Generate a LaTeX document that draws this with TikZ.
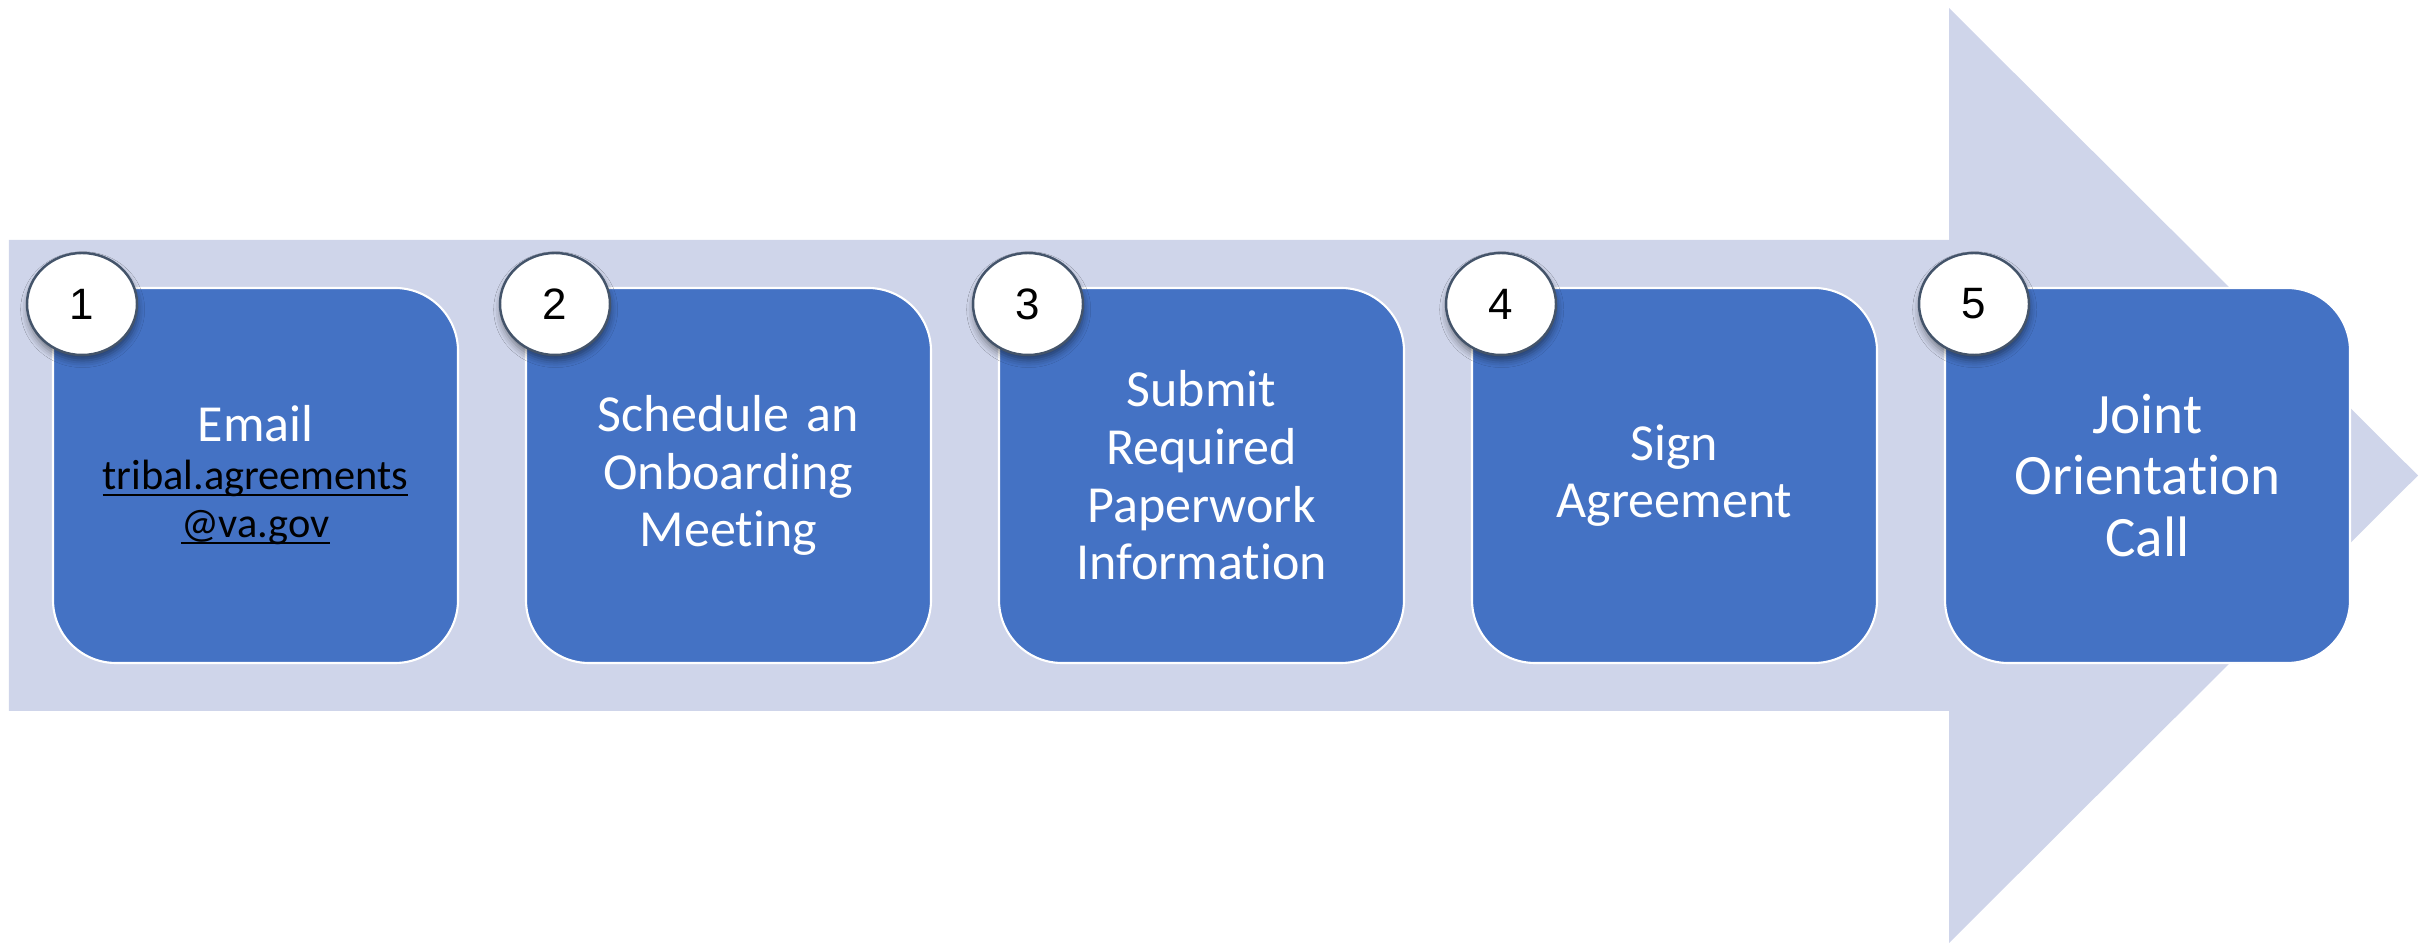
\documentclass[tikz,border=0pt]{standalone}
\usepackage{fontspec}
\setmainfont{Carlito}[Ligatures=NoCommon]
\newfontfamily\numfont{Liberation Sans}
\usetikzlibrary{positioning,shapes.geometric,shadows.blur}

\definecolor{arrowfill}{HTML}{CFD5EA}
\definecolor{stepblue}{HTML}{4472C4}
\definecolor{badgeline}{HTML}{44546A}

% underline that stays close to the baseline
\newcommand{\mailline}[1]{\leavevmode\setbox0\hbox{#1}%
  \rlap{\rule[-0.14em]{\wd0}{0.055em}}\box0}

\begin{document}
\begin{tikzpicture}[
  stepbox/.style={draw=white, line width=0.6pt, fill=stepblue,
                  rounded corners=0.63cm, minimum width=4.05cm,
                  minimum height=3.75cm, outer sep=0pt, inner sep=0pt,
                  text width=3.8cm, align=center, text=white,
                  font=\fontsize{14.8}{16.4}\selectfont},
  badge/.style={ellipse, draw=badgeline, line width=0.7pt, fill=white,
                minimum width=1.1cm, minimum height=1.02cm, inner sep=0pt,
                font=\numfont\fontsize{12.5}{14}\selectfont,
                blur shadow={shadow xshift=0.2pt, shadow yshift=-1.6pt,
                             shadow blur radius=2pt, shadow opacity=45}},
]
  \useasboundingbox (0,0) rectangle (24.22,9.44);

  % background arrow
  \fill[arrowfill] (0.09,2.33) -- (0.09,7.04) -- (19.49,7.04) -- (19.49,9.36)
    -- (24.18,4.685) -- (19.49,0.01) -- (19.49,2.33) -- cycle;

  % steps
  \node[stepbox, text=black, font=\fontsize{12.06}{13.66}\selectfont]
    (email) at (2.555,4.685)
    {{\fontsize{14.8}{16.4}\selectfont\color{white}Email}\\
     \mailline{tribal.agreements}\\\mailline{@va.gov}};
  \node[stepbox, right=0.68cm of email] (meeting)
    {Schedule an\\Onboarding\\Meeting};
  \node[stepbox, right=0.68cm of meeting] (paperwork)
    {Submit\\Required\\Paperwork\\Information};
  \node[stepbox, right=0.68cm of paperwork] (agreement)
    {Sign\\Agreement};
  \node[stepbox, right=0.68cm of agreement,
        font=\fontsize{16.25}{17.6}\selectfont] (orientation)
    {Joint\\Orientation\\Call};

  % step numbers
  \node[badge] (num1) at ([xshift=0.29cm, yshift=-0.16cm]email.north west) {1};
  \node[badge] (num2) at ([xshift=0.29cm, yshift=-0.16cm]meeting.north west) {2};
  \node[badge] (num3) at ([xshift=0.29cm, yshift=-0.16cm]paperwork.north west) {3};
  \node[badge] (num4) at ([xshift=0.29cm, yshift=-0.16cm]agreement.north west) {4};
  \node[badge] (num5) at ([xshift=0.29cm, yshift=-0.16cm]orientation.north west) {5};
\end{tikzpicture}
\end{document}
